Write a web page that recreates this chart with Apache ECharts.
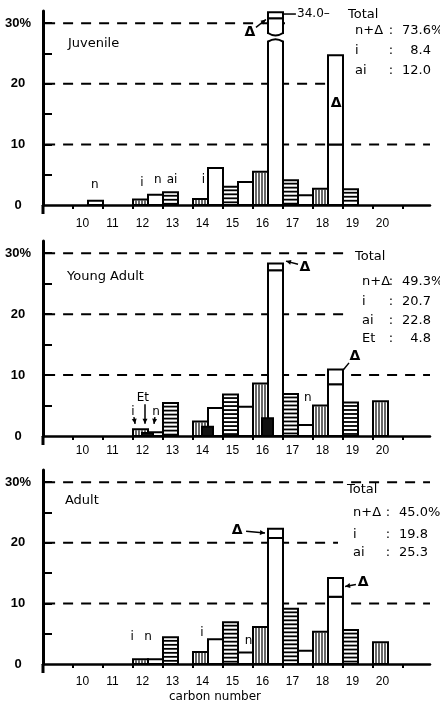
<!DOCTYPE html>
<html><head><meta charset="utf-8">
<script src="https://cdn.jsdelivr.net/npm/echarts@6/dist/echarts.min.js"></script>
<style>html,body{margin:0;padding:0;background:#fff}#c{width:440px;height:709px}</style>
</head><body><div id="c"></div>
<script>
// ---------- data ----------
const carbonNumbers = [10, 11, 12, 13, 14, 15, 16, 17, 18, 19, 20];
const yTickLabels = [0, 10, 20, 30];
const yMinorTicks = [5, 10, 15, 20, 25, 30];
const xTickValues = [10, 11, 12, 13, 14, 15, 16, 17, 18, 19, 20, 21];
const panelNames = ['Juvenile', 'Young Adult', 'Adult'];

// Juvenile (values in %, indexed by carbon number 10..20)
const juvIso     = [null, null, 0.9, null, 1.0, null, 5.5, null, 2.7, null, null];
const juvAnteiso = [null, null, null, 2.1, null, 3.0, null, 4.1, null, 2.6, null];
const juvNormal  = [0.7, null, 1.7, null, 6.1, 3.8, 33.0, 1.6, 10.0, null, null];
const juvDelta   = [null, null, null, null, null, null, 1.0, null, 14.7, null, null];
const juvTotals  = [['n+Δ', 73.6], ['i', 8.4], ['ai', 12.0]];

// Young Adult
const yaIso      = [null, null, 1.1, null, 2.4, null, 8.6, null, 5.0, null, 5.7];
const yaAnteiso  = [null, null, null, 5.4, null, 6.8, null, 6.9, null, 5.5, null];
const yaNormal   = [null, null, 0.6, null, 4.6, 4.8, 27.2, 1.8, 8.5, null, null];
const yaDelta    = [null, null, null, null, null, null, 1.1, null, 2.4, null, null];
const yaEthyl    = [null, null, 0.5, null, 1.5, null, 2.9, null, null, null, null];
const yaTotals   = [['n+Δ', 49.3], ['i', 20.7], ['ai', 22.8], ['Et', 4.8]];

// Adult
const adIso      = [null, null, 0.8, null, 2.0, null, 6.1, null, 5.3, null, 3.6];
const adAnteiso  = [null, null, null, 4.4, null, 6.9, null, 9.1, null, 5.6, null];
const adNormal   = [null, null, 0.8, null, 4.1, 1.9, 20.8, 2.2, 11.1, null, null];
const adDelta    = [null, null, null, null, null, null, 1.5, null, 3.1, null, null];
const adTotals   = [['n+Δ', 45.0], ['i', 19.8], ['ai', 25.3]];

// annotations in data coordinates [x, y, text, align]
const juvLabels = [[9.83, 26.7, panelNames[0], 'left'], [10.73, 3.3, 'n'], [12.3, 3.6, 'i'], [12.83, 4.1, 'n'],
  [13.3, 4.1, 'ai'], [14.35, 4.1, 'i'], [15.9, 28.5, 'Δ'], [18.77, 16.8, 'Δ'], [17.47, 31.5, '34.0–', 'left']];
const juvArrows = [[16.1, 29.3, 16.43, 30.6, 1], [17.03, 31.5, 17.43, 31.5, 0]];
const yaLabels = [[9.8, 26.2, panelNames[1], 'left'], [12.0, 3.9, 'i'], [12.33, 6.2, 'Et'], [12.77, 3.9, 'n'],
  [17.73, 27.7, 'Δ'], [17.83, 6.2, 'n'], [19.4, 13.0, 'Δ']];
const yaArrows = [[12.03, 3.1, 12.07, 2.0, 1], [12.4, 5.2, 12.4, 2.0, 1], [12.73, 3.1, 12.7, 2.0, 1],
  [17.5, 28.2, 17.1, 28.7, 1], [19.2, 12.0, 19.0, 10.8, 0]];
const adLabels = [[9.73, 26.9, panelNames[2], 'left'], [11.97, 4.5, 'i'], [12.5, 4.5, 'n'], [14.3, 5.1, 'i'],
  [15.85, 3.8, 'n'], [15.47, 22.1, 'Δ'], [19.67, 13.4, 'Δ']];
const adArrows = [[15.77, 21.9, 16.4, 21.6, 1], [19.43, 13.1, 19.07, 12.8, 1]];

// ---------- layout / style ----------
const XMIN = 9, XMAX = 21.9, YMAX = 32, YCAP = 31.8, BREAK = [27.1, 28.2];
const SLOT = [0.25, 0.25, 0.75, 0.75, 0.48];   // iso, anteiso, normal, delta, ethyl
const WIDTH = [0.5, 0.5, 0.47, 0.47, 0.36];
const FONT = 'DejaVu Sans';
const grids = [
  {left: 43, right: 10, top: 11, height: 194},
  {left: 43, right: 10, top: 241, height: 195},
  {left: 43, right: 10, top: 470, height: 194}
];
const labelMargins = [13, 9, 12];
const totalLayouts = [
  {masks: [{x: 285, y: 0, width: 155, height: 28}, {x: 345, y: 0, width: 95, height: 90}],
   tx: 348, ty: 15, rows: [31, 51, 71], lx: 355, cx: 391, vx: 431},
  {masks: [{x: 347, y: 245, width: 93, height: 102}],
   tx: 355, ty: 257, rows: [282, 302, 321, 339], lx: 362, cx: 391, vx: 431},
  {masks: [{x: 338, y: 485, width: 102, height: 77}],
   tx: 347, ty: 490, rows: [513, 535, 553], lx: 353, cx: 388, vx: 428}
];

const panels = [
  {iso: juvIso, anteiso: juvAnteiso, normal: juvNormal, delta: juvDelta, totals: juvTotals, labels: juvLabels, arrows: juvArrows},
  {iso: yaIso, anteiso: yaAnteiso, normal: yaNormal, delta: yaDelta, ethyl: yaEthyl, totals: yaTotals, labels: yaLabels, arrows: yaArrows},
  {iso: adIso, anteiso: adAnteiso, normal: adNormal, delta: adDelta, totals: adTotals, labels: adLabels, arrows: adArrows}
];

function buildBars(p) {
  const items = [], top = [];
  carbonNumbers.forEach((c, k) => {
    if (p.iso[k] != null) items.push([c + SLOT[0], p.iso[k], 0, 0, 0]);
    if (p.anteiso[k] != null) items.push([c + SLOT[1], p.anteiso[k], 0, 1, 0]);
    if (p.normal[k] != null) {
      const d = p.delta[k] || 0, total = p.normal[k] + d;
      const shift = total > YCAP ? total - YCAP : 0;   // broken bar: drawn capped
      items.push([c + SLOT[2], p.normal[k] - shift, 0, 2, shift > 0 ? 1 : 0]);
      if (d) items.push([c + SLOT[3], total - shift, p.normal[k] - shift, 3, 0]);
    }
    if (p.ethyl && p.ethyl[k] != null) top.push([c + SLOT[4], p.ethyl[k], 0, 4, 0]);
  });
  return items.concat(top);
}

function renderBar(params, api) {
  const x = api.value(0), t = api.value(3), w = WIDTH[t];
  const a = api.coord([x - w / 2, api.value(1)]), b = api.coord([x + w / 2, api.value(2)]);
  const x0 = Math.round(a[0]), x1 = Math.round(b[0]), y0 = a[1], y1 = b[1];
  const ch = [{type: 'rect', shape: {x: x0, y: y0, width: x1 - x0, height: y1 - y0},
    style: {fill: t === 4 ? '#111' : '#fff', stroke: '#000', lineWidth: 2}}];
  if (t === 0) for (let xx = x0 + 3; xx < x1 - 1; xx += 3)
    ch.push({type: 'line', shape: {x1: xx, y1: y0 + 1, x2: xx, y2: y1}, style: {stroke: '#000', lineWidth: 1.2}});
  if (t === 1) for (let yy = y0 + 3.5; yy < y1 - 1; yy += 4)
    ch.push({type: 'line', shape: {x1: x0 + 1, y1: yy, x2: x1 - 1, y2: yy}, style: {stroke: '#000', lineWidth: 1.8}});
  if (api.value(4)) {
    const lo = api.coord([x, BREAK[0]])[1], hi = api.coord([x, BREAK[1]])[1], m = (x0 + x1) / 2;
    ch.push({type: 'rect', shape: {x: x0 - 3, y: hi, width: x1 - x0 + 6, height: lo - hi}, style: {fill: '#fff', stroke: null}});
    ch.push({type: 'bezierCurve', shape: {x1: x0, y1: hi - 1, x2: x1, y2: hi - 1, cpx1: m, cpy1: hi + 4}, style: {stroke: '#000', lineWidth: 2, fill: null}});
    ch.push({type: 'bezierCurve', shape: {x1: x0, y1: lo + 1, x2: x1, y2: lo + 1, cpx1: m, cpy1: lo - 4}, style: {stroke: '#000', lineWidth: 2, fill: null}});
  }
  return {type: 'group', children: ch};
}

function renderGridLine(params, api) {
  const v = api.value(1);
  const a = api.coord([XMIN + 0.07, v]), b = api.coord([XMAX, v]);
  return {type: 'line', shape: {x1: a[0], y1: a[1], x2: b[0], y2: b[1]},
    style: {stroke: '#000', lineWidth: 2, lineDash: [10, 8]}};
}

function renderArrow(params, api) {
  const p = api.coord([api.value(0), api.value(1)]), q = api.coord([api.value(2), api.value(3)]);
  const ch = [{type: 'line', shape: {x1: p[0], y1: p[1], x2: q[0], y2: q[1]}, style: {stroke: '#000', lineWidth: 1.5}}];
  if (api.value(4)) {
    const ang = Math.atan2(q[1] - p[1], q[0] - p[0]), L = 5, W = 2.5;
    const bx = q[0] - L * Math.cos(ang), by = q[1] - L * Math.sin(ang);
    ch.push({type: 'polygon', shape: {points: [[q[0], q[1]],
      [bx - W * Math.sin(ang), by + W * Math.cos(ang)], [bx + W * Math.sin(ang), by - W * Math.cos(ang)]]},
      style: {fill: '#000'}});
  }
  return {type: 'group', children: ch};
}

function makeLabelRenderer(labels) {
  return function (params, api) {
    const it = labels[params.dataIndex];
    const p = api.coord([api.value(0), api.value(1)]);
    const isName = panelNames.indexOf(it[2]) >= 0;
    const isDelta = it[2] === 'Δ';
    return {type: 'text', x: p[0], y: p[1], style: {text: it[2], fill: '#000',
      fontFamily: FONT, fontSize: isName ? 13 : (isDelta ? 14 : 12), fontWeight: isDelta ? 'bold' : 'normal',
      align: it[3] || 'center', verticalAlign: 'middle'}};
  };
}

function totalBlock(rows, L) {
  const els = [];
  const txt = (x, y, s, align) => ({type: 'text', x: x, y: y, z: 2,
    style: {text: s, fill: '#000', fontFamily: FONT, fontSize: 13, align: align, verticalAlign: 'middle',
      textAlign: align, textVerticalAlign: 'middle'}});
  L.masks.forEach(m => els.push({type: 'rect', shape: m, style: {fill: '#fff'}, z: 2}));
  els.push(txt(L.tx, L.ty, 'Total', 'left'));
  rows.forEach((r, k) => {
    const y = L.rows[k];
    els.push(txt(L.lx, y, r[0], 'left'));
    els.push(txt(L.cx, y, ':', 'center'));
    els.push(txt(L.vx, y, r[1].toFixed(1), 'right'));
    if (k === 0) els.push(txt(L.vx, y, '%', 'left'));
  });
  return els;
}

const xAxes = [], yAxes = [], series = [];
let graphics = [];
panels.forEach((p, i) => {
  xAxes.push({gridIndex: i, type: 'value', min: XMIN, max: XMAX,
    axisLine: {show: true, lineStyle: {color: '#000', width: 2.5}},
    axisTick: {show: true, customValues: xTickValues, length: 4, lineStyle: {color: '#000', width: 2}},
    axisLabel: {show: true, customValues: carbonNumbers, margin: labelMargins[i], padding: [0, 0, 0, 19],
      color: '#000', fontFamily: 'Liberation Sans', fontSize: 12},
    splitLine: {show: false}});
  yAxes.push({gridIndex: i, type: 'value', min: 0, max: YMAX,
    axisLine: {show: true, lineStyle: {color: '#000', width: 3}},
    axisTick: {show: true, inside: true, customValues: yMinorTicks, length: 9, lineStyle: {color: '#000', width: 2}},
    axisLabel: {show: true, customValues: yTickLabels, margin: 25, align: 'center',
      formatter: v => v === 30 ? '30%' : String(v),
      color: '#000', fontFamily: 'Liberation Sans', fontSize: 13, fontWeight: 'bold'},
    splitLine: {show: false}});
  series.push({type: 'custom', xAxisIndex: i, yAxisIndex: i, z: 1, silent: true,
    data: yTickLabels.filter(v => v > 0).map(v => [XMIN, v]), encode: {x: 0, y: 1}, renderItem: renderGridLine});
  series.push({type: 'custom', xAxisIndex: i, yAxisIndex: i, z: 3, silent: true, clip: false,
    data: buildBars(p), encode: {x: 0, y: 1}, renderItem: renderBar});
  series.push({type: 'custom', xAxisIndex: i, yAxisIndex: i, z: 4, silent: true, clip: false,
    data: p.arrows, encode: {x: [0, 2], y: [1, 3]}, renderItem: renderArrow});
  series.push({type: 'custom', xAxisIndex: i, yAxisIndex: i, z: 4, silent: true, clip: false,
    data: p.labels.map(l => [l[0], l[1]]), encode: {x: 0, y: 1}, renderItem: makeLabelRenderer(p.labels)});
  graphics = graphics.concat(totalBlock(p.totals, totalLayouts[i]));
  // y-axis line continues a little below the x-axis
  const by = grids[i].top + grids[i].height;
  graphics.push({type: 'line', z: 2, shape: {x1: 43, y1: by, x2: 43, y2: by + 9}, style: {stroke: '#000', lineWidth: 3}});
});
graphics.push({type: 'text', x: 215, y: 697, z: 2,
  style: {text: 'carbon number', fill: '#000', fontFamily: FONT, fontSize: 12, align: 'center', verticalAlign: 'middle',
    textAlign: 'center', textVerticalAlign: 'middle'}});

const chart = echarts.init(document.getElementById('c'), null, {renderer: 'canvas'});
chart.setOption({
  animation: false,
  backgroundColor: '#fff',
  grid: grids,
  xAxis: xAxes,
  yAxis: yAxes,
  series: series,
  graphic: {elements: graphics}
});
</script>
</body></html>
